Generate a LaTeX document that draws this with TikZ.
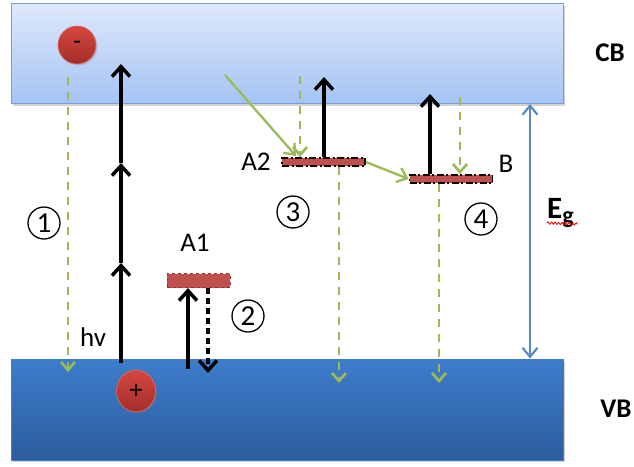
\documentclass[tikz,border=0pt]{standalone}
\usepackage{fontspec}
\setmainfont{Carlito}
\usetikzlibrary{arrows.meta,shadows,decorations.pathmorphing,shapes.geometric}
\definecolor{cbtop}{HTML}{DEE9FB}
\definecolor{cbbot}{HTML}{A5C3F3}
\definecolor{cbedge}{HTML}{7B9ED4}
\definecolor{vbtop}{HTML}{3D7DCC}
\definecolor{vbbot}{HTML}{2C5D9C}
\definecolor{grn}{HTML}{9BBB59}
\definecolor{trapred}{HTML}{C0504D}
\definecolor{trapedge}{HTML}{8E3432}
\definecolor{egblue}{HTML}{5A89C5}
\definecolor{ballhi}{HTML}{D6463F}
\definecolor{balllo}{HTML}{A32E2A}
\begin{document}
\begin{tikzpicture}[x=1pt,y=-1pt,
  band/.style={rectangle,inner sep=0pt,line width=1pt,drop shadow={shadow xshift=2pt,shadow yshift=-2pt,opacity=0.35}},
  ball/.style={circle,inner sep=0pt,minimum size=38pt,top color=ballhi,bottom color=balllo,draw=ballhi!80!white,line width=0.6pt,
    drop shadow={shadow xshift=1.5pt,shadow yshift=-1.5pt,opacity=0.3},font=\fontsize{26}{26}\selectfont},
  blackarrow/.style={line width=3.5pt,-{Straight Barb[length=10pt,width=18pt]}},
  blackdash/.style={line width=3.5pt,dash pattern=on 6pt off 4pt,-{Straight Barb[length=10pt,width=18pt]}},
  greendash/.style={grn,line width=2.7pt,dash pattern=on 8pt off 7pt,-{Straight Barb[length=8pt,width=14pt]}},
  greensolid/.style={grn,line width=2.3pt,-{Straight Barb[length=9pt,width=15pt]}},
  trapA/.style={rectangle,inner sep=0pt,fill=trapred,draw=trapedge,dashed,line width=1pt,minimum width=63pt,minimum height=14pt},
  trapB/.style={rectangle,inner sep=0pt,fill=trapred,draw=black,line width=1.8pt,dash pattern=on 7pt off 2.5pt on 2pt off 2.5pt,minimum width=83pt,minimum height=8pt},
  num/.style={circle,draw,line width=1.3pt,minimum size=32pt,inner sep=0pt,font=\fontsize{29}{29}\selectfont},
  lab/.style={inner sep=0pt,font=\fontsize{27}{27}\selectfont},
  bandlab/.style={inner sep=0pt,font=\fontsize{27}{27}\selectfont\bfseries}
]
\useasboundingbox (0,0) rectangle (634,466);
\fill[white] (0,0) rectangle (634,466);
% bands
\node[band,draw=cbedge,top color=cbtop,bottom color=cbbot,minimum width=552pt,minimum height=100pt] (CB) at (287,53.5) {};
\node[band,draw=vbtop,top color=vbtop,bottom color=vbbot,minimum width=552pt,minimum height=101pt] (VB) at (287,409.5) {};
\node[bandlab] (CBl) at (610,53) {CB};
\node[bandlab] (VBl) at (616,409) {VB};
% carriers
\node[ball] (el) at (77,45) {-};
\node[ball,ellipse,minimum width=39pt,minimum height=42pt] (ho) at (136,391) {+};
% traps
\node[trapA] (A1bar) at (198.5,280.5) {};
\node[trapB] (A2bar) at (323.5,162) {};
\node[trapB] (Bbar) at (451,179) {};
\node[lab] (A1l) at (195,243) {A1};
\node[lab] (A2l) at (256,162) {A2};
\node[lab] (Bl) at (506,164) {B};
\node[lab] (hv) at (93,337) {hv};
% numbers
\node[num] (n1) at (44,223) {1};
\node[num] (n2) at (248,316) {2};
\node[num] (n3) at (293,212) {3};
\node[num] (n4) at (481,219) {4};
% path 1
\coordinate (g1s) at (68,77);
\coordinate (g1e) at (68,372);
\draw[greendash] (g1s) -- (g1e);
% absorption hv
\coordinate (h0) at (121,363);
\coordinate (h1) at (121,263);
\coordinate (h2) at (121,163);
\coordinate (h3) at (121,64);
\draw[blackarrow] (h0) -- (h1);
\draw[blackarrow] (h1) -- (h2);
\draw[blackarrow] (h2) -- (h3);
% path 2
\coordinate (a1u) at (188,369);
\coordinate (a1d) at (208,373);
\draw[blackarrow] (a1u) -- (a1u |- A1bar.south);
\draw[blackdash] (a1d |- A1bar.south) -- (a1d);
% path 3
\coordinate (g3s) at (225,75);
\draw[greensolid] (g3s) -- (296,156);
\coordinate (g3d) at (300,76);
\draw[greendash] (g3d) -- (g3d |- A2bar.north);
\coordinate (b3) at (324,77);
\draw[blackarrow] (b3 |- A2bar.north) -- (b3);
\coordinate (g3e) at (339,383);
\draw[greendash] (g3e |- A2bar.south) -- (g3e);
\draw[greensolid] (A2bar.east) -- (Bbar.west);
% path 4
\coordinate (b4) at (430,94);
\draw[blackarrow] (b4 |- Bbar.north) -- (b4);
\coordinate (g4d) at (460,97);
\draw[greendash] (g4d) -- (g4d |- Bbar.north);
\coordinate (g4e) at (439,383);
\draw[greendash] (g4e |- Bbar.south) -- (g4e);
% band gap
\coordinate (eg) at (530,0);
\draw[egblue,line width=2.2pt,{Straight Barb[length=9pt,width=15pt]}-{Straight Barb[length=9pt,width=15pt]}] (eg |- CB.south) -- (eg |- VB.north);
\node[inner sep=0pt,anchor=base west] (Egl) at (547,218) {\fontsize{31}{31}\selectfont\bfseries E\raisebox{-5pt}{\fontsize{24}{24}\selectfont g}};
\draw[red,line width=0.8pt,decorate,decoration={snake,amplitude=1.2pt,segment length=3.5pt}] (547,223) -- (578,224);
\end{tikzpicture}
\end{document}
